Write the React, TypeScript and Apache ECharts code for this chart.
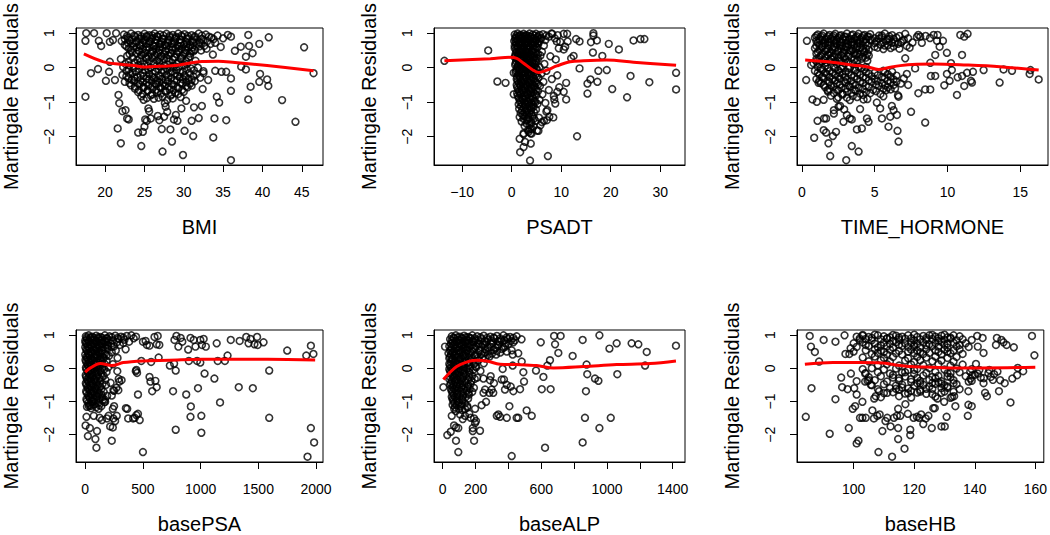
import React, { useEffect, useRef } from "react";
import * as echarts from "echarts";

// ---------- y (residual) axis ----------
const yMin = -2.82;
const yMax = 1.15;
const yTicks = [-2, -1, 0, 1];
const yTitle = "Martingale Residuals";

// ---------- BMI ----------
const bmiTitle = "BMI";
const bmiRange = [16.3, 47.7];
const bmiTicks = [20, 25, 30, 35, 40, 45];
const bmiPoints = [
  [17.5,0.78],[17.6,1.0],[17.5,-0.84],[18.6,1.0],[18.2,-0.16],[19.1,-0.04],[19.2,0.78],[19.5,0.63],[20.2,1.0],[20.1,-0.38],[20.5,-0.12],[20.6,0.17],[20.6,0.75],[21.0,0.8],[21.4,1.0],[21.25,-0.36],[21.7,-0.79],[21.6,-1.76],[21.8,-1.03],[22.0,-2.19],[22.2,-1.26],[22.6,-1.23],[22.8,-1.47],[23.0,-1.5],[24.2,-1.88],[24.6,-2.27],[24.8,-1.86],[25.0,-1.71],[25.1,-1.5],[25.3,-1.54],[25.5,-1.18],[25.6,-1.26],[25.8,-1.47],[26.7,-1.4],[26.9,-1.52],[27.3,-2.43],[27.2,-1.78],[27.5,-1.42],[27.6,-1.03],[27.7,-1.13],[27.9,-1.28],[28.3,-1.79],[28.5,-2.14],[28.75,-1.5],[29.0,-1.37],[29.2,-1.54],[29.7,-1.18],[29.9,-2.53],[30.1,-1.83],[30.3,-0.96],[31.0,-1.54],[31.2,-1.98],[31.3,-1.15],[31.9,-1.46],[32.3,-1.11],[32.4,-0.62],[32.5,-0.16],[33.1,-0.36],[33.75,-2.02],[33.9,-1.47],[34.2,-0.84],[34.5,-1.01],[34.8,-0.12],[35.4,-1.52],[35.4,-0.12],[36.0,-0.67],[36.0,-0.31],[36.0,-2.68],[36.5,0.49],[37.25,0.61],[37.3,0.03],[37.9,-0.05],[37.9,0.32],[38.2,0.95],[38.3,0.63],[38.2,-0.92],[38.5,-0.55],[38.75,0.42],[39.6,0.69],[39.7,-0.18],[39.6,-0.41],[40.6,-0.34],[40.75,-0.53],[40.8,0.88],[42.5,-0.94],[44.2,-1.57],[45.3,0.59],[46.5,-0.16],
  [22.4,0.96],[23.3,0.99],[24.2,0.95],[25.0,0.98],[25.6,0.94],[26.3,0.99],[27.0,0.96],[27.8,0.98],[28.6,0.95],[29.3,0.99],[30.1,0.97],[31.0,0.94],[31.9,0.99],[32.8,0.96],[34.3,0.93],[35.6,0.95],[36.0,0.9],
  [22.9,0.87],[23.8,0.9],[24.6,0.85],[25.3,0.89],[26.0,0.86],[26.7,0.9],[27.4,0.84],[28.2,0.88],[29.0,0.86],[29.8,0.9],[30.5,0.85],[31.4,0.88],[32.3,0.84],[33.5,0.87],[35.0,0.85],
  [22.1,0.77],[23.1,0.8],[24.0,0.75],[24.9,0.79],[25.7,0.76],[26.4,0.8],[27.2,0.74],[28.0,0.78],[28.8,0.76],[29.5,0.8],[30.3,0.75],[31.1,0.78],[32.0,0.73],[33.0,0.77],[34.0,0.72],
  [22.5,0.66],[23.5,0.7],[24.4,0.65],[25.2,0.69],[26.1,0.64],[26.9,0.68],[27.6,0.66],[28.5,0.7],[29.2,0.64],[30.0,0.67],[30.8,0.65],[31.6,0.69],[32.6,0.63],[34.7,0.6],
  [23.0,0.56],[24.0,0.59],[24.8,0.54],[25.6,0.58],[26.5,0.55],[27.3,0.59],[28.1,0.53],[29.0,0.57],[29.7,0.55],[30.6,0.58],[31.4,0.52],[32.9,0.55],
  [23.4,0.45],[24.3,0.48],[25.1,0.43],[26.0,0.47],[26.8,0.44],[27.7,0.48],[28.4,0.42],[29.3,0.46],[30.2,0.44],[31.2,0.47],
  [22.8,0.34],[24.6,0.37],[25.5,0.32],[26.3,0.36],[27.1,0.33],[28.0,0.37],[28.9,0.31],[29.8,0.35],[30.8,0.33],[33.7,0.38],
  [22.0,0.25],[24.1,0.22],[25.3,0.26],[26.6,0.21],[27.5,0.25],[28.6,0.23],[29.6,0.26],[31.5,0.2],
  [22.6,0.11],[23.7,0.14],[25.0,0.1],[26.2,0.13],[27.9,0.09],[29.1,0.12],[30.4,0.1],
  [22.3,0.02],[23.6,-0.01],[24.7,0.03],[25.8,0.0],[27.0,0.04],[28.3,0.01],[29.4,0.03],[30.9,-0.02],[31.8,0.0],
  [22.7,-0.09],[23.9,-0.12],[25.1,-0.08],[26.4,-0.11],[27.4,-0.07],[28.5,-0.1],[29.9,-0.12],[31.3,-0.08],[32.5,-0.1],[34.0,-0.09],
  [22.2,-0.21],[23.2,-0.18],[24.5,-0.22],[25.6,-0.19],[26.8,-0.23],[27.8,-0.2],[28.9,-0.17],[30.1,-0.22],[31.6,-0.19],
  [23.0,-0.31],[24.1,-0.28],[25.3,-0.32],[26.2,-0.29],[27.2,-0.33],[28.4,-0.3],[29.5,-0.27],[30.6,-0.32],[32.1,-0.29],
  [22.5,-0.41],[23.7,-0.38],[24.8,-0.42],[25.9,-0.39],[26.9,-0.43],[28.0,-0.4],[29.1,-0.37],[30.3,-0.42],[31.4,-0.39],
  [23.3,-0.51],[24.4,-0.48],[25.5,-0.52],[26.5,-0.49],[27.6,-0.53],[28.7,-0.5],[29.8,-0.47],[31.0,-0.52],
  [23.8,-0.61],[24.9,-0.58],[26.0,-0.62],[27.1,-0.59],[28.2,-0.63],[29.3,-0.6],[30.5,-0.57],
  [24.2,-0.71],[25.4,-0.68],[26.6,-0.72],[27.7,-0.69],[28.9,-0.73],[30.0,-0.7],
  [24.6,-0.83],[25.8,-0.8],[27.3,-0.84],[28.3,-0.81],[29.6,-0.85],
  [24.9,-0.93],[26.2,-0.9],[27.9,-0.94],
];
const bmiPointsMore = [
  [22.8,0.92],[23.7,0.93],[24.6,0.91],[25.3,0.92],[26.0,0.93],[26.6,0.91],[27.4,0.93],[28.2,0.92],[29.0,0.9],[29.7,0.93],[30.5,0.92],[31.4,0.91],[32.3,0.93],[33.2,0.9],
  [22.5,0.83],[23.4,0.82],[24.3,0.84],[25.1,0.82],[25.9,0.83],[26.5,0.81],[27.3,0.84],[28.1,0.82],[28.9,0.83],[29.6,0.81],[30.4,0.84],[31.3,0.82],[32.5,0.8],[33.8,0.83],
  [22.9,0.72],[23.9,0.71],[24.8,0.73],[25.6,0.71],[26.4,0.72],[27.1,0.7],[28.0,0.73],[28.8,0.71],[29.6,0.72],[30.4,0.7],[31.2,0.73],[32.2,0.71],[33.4,0.69],
  [22.7,0.62],[23.6,0.61],[24.5,0.63],[25.3,0.6],[26.2,0.62],[27.0,0.61],[27.8,0.63],[28.6,0.6],[29.4,0.62],[30.3,0.61],[31.1,0.59],[32.0,0.62],
  [23.3,0.51],[24.3,0.5],[25.2,0.52],[26.1,0.5],[26.9,0.51],[27.7,0.49],[28.5,0.52],[29.4,0.5],[30.2,0.51],[31.0,0.49],[32.2,0.5],
  [23.1,0.4],[24.0,0.41],[24.9,0.39],[25.8,0.41],[26.6,0.4],[27.5,0.38],[28.3,0.41],[29.1,0.4],[30.0,0.39],[30.8,0.41],
  [23.5,0.29],[24.4,0.28],[25.2,0.3],[26.0,0.28],[27.0,0.29],[27.9,0.27],[28.8,0.3],[29.7,0.28],[30.6,0.29],
  [23.0,0.18],[24.5,0.17],[25.6,0.19],[26.9,0.17],[28.1,0.18],[29.3,0.16],[30.3,0.19],
  [23.1,0.06],[24.2,0.07],[25.4,0.05],[26.6,0.07],[27.6,0.06],[28.8,0.05],[30.0,0.07],
  [23.0,-0.05],[24.3,-0.04],[25.5,-0.06],[26.8,-0.04],[27.9,-0.05],[29.1,-0.06],[30.4,-0.04],
  [23.5,-0.15],[24.8,-0.14],[26.0,-0.16],[27.2,-0.14],[28.3,-0.15],[29.5,-0.13],[30.7,-0.15],
  [22.7,-0.25],[23.7,-0.26],[24.9,-0.24],[26.0,-0.26],[27.0,-0.25],[28.0,-0.27],[29.2,-0.24],[30.2,-0.26],[31.2,-0.25],
  [23.4,-0.35],[24.5,-0.36],[25.6,-0.34],[26.6,-0.36],[27.7,-0.35],[28.8,-0.37],[29.9,-0.34],[31.0,-0.36],
  [23.1,-0.45],[24.2,-0.46],[25.3,-0.44],[26.4,-0.46],[27.4,-0.45],[28.5,-0.47],[29.6,-0.44],[30.8,-0.46],
  [23.8,-0.55],[24.9,-0.56],[26.0,-0.54],[27.0,-0.56],[28.1,-0.55],[29.2,-0.57],[30.3,-0.54],
  [24.3,-0.65],[25.4,-0.66],[26.5,-0.64],[27.6,-0.66],[28.7,-0.65],[29.8,-0.64],
  [24.8,-0.76],[26.0,-0.77],[27.1,-0.75],[28.5,-0.77],[29.3,-0.76],
  [25.3,-0.88],[26.8,-0.87],[28.6,-0.89],
];
const bmiSmooth = [[17.3,0.4],[19.8,0.17],[21.9,0.1],[24.0,0.05],[25.2,0.02],[26.9,0.04],[29.0,0.06],[30.6,0.13],[32.3,0.18],[34.4,0.19],[36.5,0.15],[40.6,0.06],[46.5,-0.09]];

// ---------- PSADT ----------
const psadtTitle = "PSADT";
const psadtRange = [-15.7, 35.0];
const psadtTicks = [-10, 0, 10, 20, 30];
const psadtPoints = [
  [-13.6,0.2],[-4.75,0.5],[-2.9,-0.4],[-1.25,-0.44],[0.4,-0.15],[0.4,-0.77],[8.2,0.98],[9.1,0.76],[10.5,0.98],[11.2,0.98],[10.5,0.53],[10.8,0.61],[11.3,0.76],[11.0,-0.44],[11.0,-0.92],[10.5,-0.7],[12.0,0.27],[12.5,0.34],[13.0,0.83],[13.7,0.76],[13.7,-0.02],[13.2,-1.99],[7.3,-2.56],[16.0,0.74],[16.4,0.44],[16.5,1.0],[16.5,0.93],[17.2,0.79],[15.9,-0.34],[15.3,-0.46],[15.3,-0.75],[17.3,-0.41],[17.5,-0.09],[18.3,0.34],[19.6,0.69],[19.2,-0.07],[20.3,-0.62],[21.65,0.53],[23.3,-0.86],[24.0,-0.24],[24.6,0.79],[26.0,0.83],[26.8,0.83],[27.8,-0.42],[33.2,-0.15],[33.2,-0.63],
  [1.6,-2.06],[1.7,-2.45],[2.4,-2.3],[2.7,-2.15],[3.7,-2.69],[3.85,-2.2],[4.0,-1.91],[3.7,-1.77],[3.4,-1.86],[2.4,-1.9],[6.5,-1.54],[7.1,-1.52],[7.2,-1.23],[5.4,-1.83],[8.4,-1.44],[8.8,-1.04],[8.6,-0.92],[9.2,-0.7],
  [0.6,0.96],[1.2,0.99],[1.8,0.95],[2.4,0.98],[3.0,0.94],[3.6,0.99],[4.2,0.96],[4.9,0.98],[5.6,0.95],[6.3,0.97],[7.0,0.93],[8.0,0.99],[9.3,0.94],
  [0.8,0.87],[1.4,0.9],[2.0,0.85],[2.6,0.89],[3.2,0.86],[3.8,0.9],[4.5,0.84],[5.2,0.88],[6.0,0.86],[7.5,0.9],[8.7,0.85],
  [0.5,0.77],[1.1,0.8],[1.7,0.75],[2.3,0.79],[2.9,0.76],[3.5,0.8],[4.1,0.74],[4.8,0.78],[5.5,0.76],[6.8,0.8],[9.8,0.75],
  [0.9,0.66],[1.5,0.7],[2.1,0.65],[2.7,0.69],[3.3,0.64],[4.0,0.68],[4.7,0.66],[5.4,0.7],[6.5,0.64],
  [0.6,0.56],[1.3,0.59],[1.9,0.54],[2.5,0.58],[3.1,0.55],[3.7,0.59],[4.4,0.53],[5.1,0.57],[9.5,0.56],
  [1.0,0.45],[1.6,0.48],[2.2,0.43],[2.8,0.47],[3.4,0.44],[4.1,0.48],[4.9,0.42],[6.1,0.46],
  [0.7,0.34],[1.4,0.37],[2.0,0.32],[2.6,0.36],[3.2,0.33],[3.9,0.37],[4.6,0.31],[5.8,0.35],[7.8,0.33],
  [1.1,0.25],[1.8,0.22],[2.4,0.26],[3.0,0.21],[3.7,0.25],[4.4,0.23],[5.3,0.26],[8.9,0.24],
  [0.8,0.13],[1.5,0.11],[2.1,0.15],[2.7,0.1],[3.4,0.14],[4.2,0.12],[5.0,0.15],[6.6,0.11],
  [1.2,0.02],[1.9,0.05],[2.5,0.01],[3.1,0.04],[3.8,0.0],[4.6,0.03],[5.6,0.02],
  [0.9,-0.09],[1.6,-0.06],[2.3,-0.1],[2.9,-0.07],[3.6,-0.11],[4.3,-0.08],[5.1,-0.05],[7.0,-0.09],
  [1.3,-0.21],[2.0,-0.18],[2.6,-0.22],[3.3,-0.19],[4.0,-0.23],[4.8,-0.2],[6.0,-0.17],[9.2,-0.22],
  [1.0,-0.33],[1.7,-0.3],[2.4,-0.34],[3.0,-0.31],[3.7,-0.35],[4.5,-0.32],[5.4,-0.29],[8.1,-0.33],
  [1.4,-0.45],[2.1,-0.42],[2.8,-0.46],[3.5,-0.43],[4.2,-0.47],[5.0,-0.44],[6.4,-0.41],
  [1.1,-0.57],[1.8,-0.54],[2.5,-0.58],[3.2,-0.55],[3.9,-0.59],[4.7,-0.56],[5.7,-0.53],[9.6,-0.57],
  [1.5,-0.69],[2.2,-0.66],[2.9,-0.7],[3.6,-0.67],[4.4,-0.71],[5.3,-0.68],[7.5,-0.65],
  [1.2,-0.81],[1.9,-0.78],[2.6,-0.82],[3.3,-0.79],[4.1,-0.83],[5.0,-0.8],[6.2,-0.77],[8.5,-0.82],
  [1.6,-0.94],[2.3,-0.91],[3.0,-0.95],[3.8,-0.92],[4.6,-0.96],[5.6,-0.93],
  [1.4,-1.06],[2.1,-1.03],[2.8,-1.07],[3.5,-1.04],[4.3,-1.08],[5.2,-1.05],[6.8,-1.02],
  [1.5,-1.19],[2.4,-1.16],[3.2,-1.2],[4.0,-1.17],[4.9,-1.21],
  [1.8,-1.31],[2.7,-1.28],[3.6,-1.32],[4.5,-1.29],[7.0,-1.27],
  [1.6,-1.43],[2.5,-1.4],[3.4,-1.44],[4.2,-1.41],[5.5,-1.45],[7.6,-1.42],
  [2.0,-1.56],[3.0,-1.53],[3.9,-1.57],[4.8,-1.54],[6.1,-1.58],
  [2.6,-1.69],[3.6,-1.66],[4.4,-1.7],[5.8,-1.67],
  [3.3,-1.81],[4.1,-1.78],[5.1,-1.82],
  [2.4,-1.93],[3.8,-1.9],
];
const psadtPointsMore = [
  [0.9,0.92],[1.5,0.93],[2.1,0.91],[2.7,0.93],[3.3,0.92],[3.9,0.9],[4.6,0.93],[5.3,0.91],
  [0.7,0.83],[1.3,0.82],[1.9,0.84],[2.5,0.82],[3.1,0.83],[3.7,0.81],[4.3,0.84],[5.0,0.82],[5.8,0.83],
  [0.8,0.73],[1.4,0.72],[2.0,0.74],[2.6,0.72],[3.2,0.73],[3.8,0.71],[4.5,0.74],[5.2,0.72],
  [0.6,0.63],[1.2,0.62],[1.8,0.64],[2.4,0.62],[3.0,0.63],[3.6,0.61],[4.3,0.64],[5.0,0.62],
  [0.9,0.52],[1.5,0.51],[2.1,0.53],[2.7,0.51],[3.3,0.52],[4.0,0.5],[4.7,0.53],
  [0.8,0.41],[1.3,0.4],[1.9,0.42],[2.5,0.4],[3.1,0.41],[3.7,0.39],[4.4,0.42],[5.3,0.4],
  [0.6,0.3],[1.2,0.29],[1.8,0.31],[2.4,0.29],[3.0,0.3],[3.6,0.28],[4.2,0.31],[5.0,0.29],
  [0.9,0.19],[1.5,0.18],[2.1,0.2],[2.8,0.18],[3.4,0.19],[4.1,0.17],[4.8,0.2],
  [0.7,0.08],[1.3,0.07],[2.0,0.09],[2.6,0.07],[3.2,0.08],[3.9,0.06],[4.7,0.09],
  [1.0,-0.03],[1.6,-0.04],[2.2,-0.02],[2.8,-0.04],[3.4,-0.03],[4.1,-0.05],[4.9,-0.02],
  [0.8,-0.14],[1.4,-0.15],[2.0,-0.13],[2.7,-0.15],[3.3,-0.14],[3.9,-0.16],[4.6,-0.13],
  [1.1,-0.26],[1.7,-0.27],[2.3,-0.25],[2.9,-0.27],[3.6,-0.26],[4.3,-0.28],[5.1,-0.25],
  [1.2,-0.38],[1.9,-0.39],[2.5,-0.37],[3.2,-0.39],[3.9,-0.38],[4.7,-0.4],
  [1.0,-0.5],[1.7,-0.51],[2.4,-0.49],[3.0,-0.51],[3.7,-0.5],[4.5,-0.52],[5.3,-0.49],
  [1.3,-0.62],[2.0,-0.63],[2.7,-0.61],[3.4,-0.63],[4.1,-0.62],[4.9,-0.64],
  [1.1,-0.74],[1.8,-0.75],[2.5,-0.73],[3.2,-0.75],[3.9,-0.74],[4.7,-0.76],
  [1.4,-0.87],[2.1,-0.88],[2.8,-0.86],[3.5,-0.88],[4.3,-0.87],
  [1.7,-1.0],[2.5,-1.01],[3.2,-0.99],[4.0,-1.01],[4.8,-1.0],
  [1.9,-1.12],[2.7,-1.13],[3.5,-1.11],[4.4,-1.13],
  [2.1,-1.24],[3.0,-1.25],[3.9,-1.23],
  [2.2,-1.36],[3.1,-1.37],[4.0,-1.35],
  [2.4,-1.48],[3.3,-1.49],[4.5,-1.47],
  [3.0,-1.62],[4.0,-1.61],
];
const psadtSmooth = [[-13.6,0.2],[-4.3,0.26],[-0.3,0.3],[1.0,0.27],[2.4,0.13],[4.1,-0.05],[5.4,-0.14],[7.1,-0.07],[9.1,0.05],[11.8,0.17],[14.5,0.2],[19.2,0.22],[24.6,0.16],[33.2,0.07]];

// ---------- TIME_HORMONE ----------
const thTitle = "TIME_HORMONE";
const thRange = [-0.33, 16.9];
const thTicks = [0, 5, 10, 15];
const thPoints = [
  [0.3,-0.36],[0.35,0.78],[0.64,0.08],[0.73,-0.92],[0.85,-2.03],[1.03,-0.99],[1.08,-1.54],[1.15,-0.44],[1.5,-1.81],[1.53,-1.47],[1.67,-1.47],[1.67,-1.88],[1.76,-0.65],[1.83,-2.19],[1.95,-2.56],[2.13,-1.98],[2.2,-1.33],[2.2,-1.23],[2.35,-1.86],[2.52,-1.13],[2.63,-1.11],[2.86,-1.57],[2.91,-1.21],[3.05,-2.68],[3.09,-1.37],[3.3,-1.47],[3.43,-2.27],[3.43,-1.5],[3.78,-1.79],[3.9,-2.43],[4.0,-1.2],[4.12,-1.76],[4.24,-0.92],[4.47,-1.47],[4.58,-1.57],[5.15,-1.01],[5.38,-1.18],[5.5,-1.47],[5.95,-1.71],[6.07,-1.42],[6.18,-1.11],[6.3,-1.23],[6.53,-1.37],[6.64,-2.14],[6.57,-1.83],[6.64,-0.84],[7.5,-1.28],[7.3,-0.5],[7.1,0.27],[7.21,-0.18],[7.78,-0.02],[8.0,-0.74],[8.24,0.72],[8.13,0.9],[8.47,-0.63],[8.47,-1.59],[8.82,-0.63],[8.86,-0.24],[8.82,0.14],[9.16,-0.24],[9.16,0.37],[9.05,0.95],[9.32,0.95],[9.28,0.78],[9.46,0.61],[9.69,0.78],[9.78,-0.51],[9.96,0.43],[9.96,-0.18],[10.15,-0.38],[10.24,0.13],[10.3,-0.07],[10.65,-0.79],[10.7,-0.28],[10.88,0.95],[11.0,0.37],[11.0,-0.24],[11.15,0.9],[11.38,0.98],[11.15,-0.53],[11.34,-0.15],[11.61,-0.38],[11.68,-0.43],[11.75,-0.12],[12.48,-0.07],[13.58,-0.43],[13.85,-0.05],[14.43,-0.09],[15.64,-0.18],[15.7,-0.07],[16.26,-0.34],
  [1.1,0.96],[1.5,0.99],[1.9,0.95],[2.3,0.98],[2.7,0.94],[3.1,0.99],[3.5,0.96],[3.9,0.98],[4.3,0.95],[4.7,0.97],[5.3,0.93],[5.7,0.99],[6.2,0.94],[7.1,0.98],[8.0,0.95],[8.5,0.92],
  [0.9,0.87],[1.3,0.9],[1.7,0.85],[2.1,0.89],[2.5,0.86],[2.9,0.9],[3.3,0.84],[3.7,0.88],[4.1,0.86],[4.5,0.9],[5.0,0.85],[5.5,0.88],[6.0,0.84],[6.5,0.87],[7.3,0.85],[7.9,0.89],[8.8,0.86],
  [1.0,0.77],[1.4,0.8],[1.8,0.75],[2.2,0.79],[2.6,0.76],[3.0,0.8],[3.4,0.74],[3.8,0.78],[4.2,0.76],[4.7,0.8],[5.1,0.75],[5.8,0.78],[6.4,0.74],[6.9,0.77],[7.6,0.73],
  [1.2,0.66],[1.6,0.7],[2.0,0.65],[2.4,0.69],[2.8,0.64],[3.2,0.68],[3.6,0.66],[4.0,0.7],[4.5,0.64],[5.4,0.67],[5.9,0.65],[6.6,0.69],[7.2,0.63],
  [0.9,0.56],[1.4,0.59],[1.8,0.54],[2.3,0.58],[2.7,0.55],[3.1,0.59],[3.5,0.53],[4.0,0.57],[4.4,0.55],[5.2,0.58],[5.6,0.54],[6.1,0.57],[6.7,0.55],[7.4,0.58],
  [1.1,0.45],[1.6,0.48],[2.0,0.43],[2.5,0.47],[2.9,0.44],[3.4,0.48],[3.8,0.42],[4.3,0.46],
  [1.3,0.34],[1.8,0.37],[2.2,0.32],[2.7,0.36],[3.2,0.33],[3.7,0.37],[4.2,0.31],[4.6,0.35],
  [1.0,0.25],[1.5,0.22],[2.0,0.26],[2.6,0.21],[3.0,0.25],[3.6,0.23],[4.1,0.26],[4.5,0.2],
  [0.8,0.13],[1.2,0.11],[1.7,0.15],[2.4,0.1],[2.9,0.14],[3.5,0.12],
  [1.1,0.02],[1.6,0.05],[2.2,0.01],[2.8,0.04],[3.3,0.0],[3.9,0.03],[4.4,0.02],
  [0.9,-0.09],[1.4,-0.06],[1.9,-0.1],[2.5,-0.07],[3.0,-0.11],[3.7,-0.08],[4.3,-0.05],[5.6,-0.09],[6.2,-0.12],
  [1.2,-0.21],[1.7,-0.18],[2.3,-0.22],[2.8,-0.19],[3.4,-0.23],[4.0,-0.2],[4.6,-0.17],[5.2,-0.22],[5.9,-0.19],[6.5,-0.23],
  [1.0,-0.33],[1.5,-0.3],[2.1,-0.34],[2.6,-0.31],[3.1,-0.35],[3.8,-0.32],[4.4,-0.29],[5.0,-0.33],[5.7,-0.3],[6.3,-0.34],[7.0,-0.31],
  [1.3,-0.45],[1.9,-0.42],[2.4,-0.46],[3.0,-0.43],[3.5,-0.47],[4.2,-0.44],[4.8,-0.41],[5.5,-0.45],[6.1,-0.42],[6.8,-0.46],
  [1.6,-0.57],[2.2,-0.54],[2.7,-0.58],[3.3,-0.55],[3.9,-0.59],[4.6,-0.56],[5.3,-0.53],[5.9,-0.57],[6.4,-0.6],
  [1.8,-0.69],[2.5,-0.66],[3.1,-0.7],[3.7,-0.67],[4.4,-0.71],[5.1,-0.68],[5.8,-0.65],
  [2.0,-0.81],[2.8,-0.78],[3.5,-0.82],[4.2,-0.79],[5.6,-0.83],[6.6,-0.8],
  [1.5,-0.93],[2.4,-0.9],[3.3,-0.94],[4.5,-0.91],
];
const thPointsMore = [
  [1.0,0.92],[1.4,0.93],[1.8,0.91],[2.2,0.93],[2.6,0.92],[3.0,0.9],[3.4,0.93],[3.8,0.91],[4.2,0.92],[4.6,0.9],[5.5,0.93],[6.0,0.91],[6.7,0.92],
  [1.2,0.83],[1.6,0.82],[2.0,0.84],[2.4,0.82],[2.8,0.83],[3.2,0.81],[3.6,0.84],[4.0,0.82],[4.4,0.83],[4.8,0.81],[5.3,0.84],[5.9,0.82],[6.3,0.83],[7.0,0.81],
  [1.1,0.73],[1.5,0.72],[1.9,0.74],[2.3,0.72],[2.7,0.73],[3.1,0.71],[3.5,0.74],[3.9,0.72],[4.4,0.73],[5.0,0.71],[5.6,0.74],[6.2,0.72],[6.8,0.73],
  [1.0,0.63],[1.4,0.62],[1.8,0.64],[2.2,0.62],[2.6,0.63],[3.0,0.61],[3.4,0.64],[3.8,0.62],[4.2,0.63],[5.0,0.61],[5.7,0.64],[6.3,0.62],
  [1.2,0.52],[1.7,0.51],[2.1,0.53],[2.5,0.51],[2.9,0.52],[3.3,0.5],[3.7,0.53],[4.2,0.51],[4.6,0.52],
  [1.0,0.41],[1.4,0.4],[1.9,0.42],[2.3,0.4],[2.8,0.41],[3.2,0.39],[3.6,0.42],[4.0,0.4],[4.5,0.41],
  [1.2,0.3],[1.6,0.29],[2.1,0.31],[2.5,0.29],[2.9,0.3],[3.4,0.28],[3.9,0.31],[4.4,0.29],
  [1.0,0.19],[1.4,0.18],[1.9,0.2],[2.3,0.18],[2.7,0.19],[3.2,0.17],[3.8,0.2],
  [1.3,-0.02],[1.8,-0.03],[2.3,-0.01],[2.7,-0.03],[3.2,-0.02],[3.6,-0.04],[4.1,-0.01],
  [1.1,-0.14],[1.6,-0.15],[2.1,-0.13],[2.6,-0.15],[3.2,-0.14],[3.8,-0.16],[4.4,-0.13],[5.0,-0.15],[5.7,-0.14],
  [1.4,-0.26],[1.9,-0.27],[2.5,-0.25],[3.0,-0.27],[3.6,-0.26],[4.2,-0.28],[4.8,-0.25],[5.5,-0.27],[6.1,-0.26],
  [1.2,-0.38],[1.8,-0.39],[2.3,-0.37],[2.9,-0.39],[3.4,-0.38],[4.0,-0.4],[4.6,-0.37],[5.2,-0.39],[5.9,-0.38],[6.5,-0.4],
  [1.5,-0.5],[2.0,-0.51],[2.6,-0.49],[3.2,-0.51],[3.7,-0.5],[4.4,-0.52],[5.1,-0.49],[5.7,-0.51],[6.3,-0.5],
  [1.9,-0.62],[2.4,-0.63],[3.0,-0.61],[3.6,-0.63],[4.2,-0.62],[4.9,-0.64],[5.6,-0.61],[6.1,-0.63],
  [2.2,-0.74],[2.8,-0.75],[3.4,-0.73],[4.0,-0.75],[4.7,-0.74],[5.4,-0.76],
  [2.5,-0.86],[3.1,-0.87],[3.8,-0.85],
];
const thSmooth = [[0.23,0.22],[2.2,0.15],[3.55,0.07],[4.47,0.03],[5.27,-0.05],[5.84,-0.01],[6.76,0.06],[7.9,0.1],[9.05,0.11],[11.3,0.08],[13.6,0.03],[16.26,-0.07]];

// ---------- basePSA ----------
const psaTitle = "basePSA";
const psaRange = [-80, 2060];
const psaTicks = [0, 500, 1000, 1500, 2000];
const psaPoints = [
  [11,-1.46],[3,-1.72],[23,-2.04],[40,-1.8],[31,-1.14],[51,-1.2],[74,-1.43],[88,-2.13],[97,-2.39],[102,-1.89],[116,-1.22],[125,-1.49],[145,-1.56],[153,-0.95],[173,-1.01],[188,-1.51],[202,-1.43],[216,-1.75],[230,-2.18],[239,-1.78],[244,-1.51],[259,-1.59],[273,-1.43],[250,-1.14],[239,-1.22],[230,-0.82],[244,-0.66],[287,-0.66],[295,-0.4],[315,-0.36],[278,-0.09],[352,-1.2],[364,-1.22],[372,-1.51],[415,-1.51],[429,-1.49],[443,-1.41],[457,-1.37],[472,-1.56],[457,-0.79],[500,-2.52],[438,-0.09],[443,-0.05],[449,-0.14],[486,0.22],[557,-0.26],[565,-0.4],[580,-0.69],[608,-0.38],[619,-0.57],[636,0.32],[571,0.19],[557,0.68],[534,0.7],[523,0.82],[500,0.8],[600,0.94],[619,0.72],[642,0.7],[628,0.97],[733,0.08],[761,-0.69],[770,0.14],[784,-1.85],[784,-0.07],[773,0.85],[790,0.97],[807,0.65],[827,0.91],[841,0.8],[875,-0.79],[892,0.56],[898,0.22],[912,-1.46],[915,-1.15],[912,0.91],[940,0.85],[955,0.65],[977,-0.6],[969,0.22],[997,0.17],[1006,-1.43],[1006,-1.94],[997,0.85],[1011,0.7],[1026,0.88],[1045,0.65],[1034,-0.16],[1119,-0.31],[1139,0.75],[1148,0.22],[1168,-1.03],[1210,0.22],[1233,0.38],[1261,0.85],[1330,-0.57],[1338,0.82],[1395,0.94],[1415,0.75],[1432,0.88],[1452,-0.6],[1466,0.72],[1489,0.94],[1494,0.7],[1545,0.78],[1594,-0.07],[1594,-1.49],[1750,0.53],[1915,0.38],[1926,-2.66],[1955,-1.8],[1955,0.68],[1977,0.43],[1983,-2.23],
  [5,0.96],[30,0.99],[60,0.95],[95,0.98],[130,0.94],[170,0.99],[210,0.96],[260,0.98],[310,0.95],[360,0.97],[400,0.99],[440,0.95],
  [15,0.87],[45,0.9],[80,0.85],[115,0.89],[150,0.86],[190,0.9],[240,0.84],[290,0.88],[340,0.86],[420,0.9],
  [3,0.77],[35,0.8],[65,0.75],[100,0.79],[140,0.76],[180,0.8],[225,0.74],[275,0.78],[330,0.76],[380,0.8],
  [20,0.66],[50,0.7],[85,0.65],[120,0.69],[160,0.64],[200,0.68],[250,0.66],[300,0.7],
  [8,0.56],[40,0.59],[70,0.54],[105,0.58],[145,0.55],[195,0.59],[265,0.53],[350,0.57],
  [25,0.45],[55,0.48],[90,0.43],[125,0.47],[170,0.44],[230,0.48],
  [10,0.34],[40,0.37],[75,0.32],[110,0.36],[155,0.33],[205,0.37],[280,0.31],
  [2,0.25],[30,0.22],[60,0.26],[95,0.21],[135,0.25],[185,0.23],
  [18,0.13],[48,0.11],[80,0.15],[120,0.1],[165,0.14],[240,0.12],
  [6,0.02],[35,0.05],[65,0.01],[100,0.04],[150,0.0],[200,0.03],
  [22,-0.09],[52,-0.06],[85,-0.1],[130,-0.07],[185,-0.11],
  [4,-0.21],[38,-0.18],[70,-0.22],[110,-0.19],[160,-0.23],
  [15,-0.33],[45,-0.3],[80,-0.34],[125,-0.31],[175,-0.35],[290,-0.32],
  [5,-0.45],[32,-0.42],[62,-0.46],[100,-0.43],[150,-0.47],[220,-0.44],
  [20,-0.57],[50,-0.54],[85,-0.58],[130,-0.55],[270,-0.59],
  [8,-0.69],[40,-0.66],[72,-0.7],[110,-0.67],[160,-0.71],[250,-0.68],
  [25,-0.81],[55,-0.78],[95,-0.82],[140,-0.79],[190,-0.83],
  [10,-0.93],[40,-0.9],[80,-0.94],[125,-0.91],[170,-0.95],
  [28,-1.04],[65,-1.01],[110,-1.05],[165,-1.02],
  [15,-1.16],[50,-1.13],[95,-1.17],[140,-1.14],
];
const psaPointsMore = [
  [12,0.92],[45,0.93],[75,0.91],[110,0.93],[145,0.92],[185,0.9],[230,0.93],[280,0.91],[330,0.92],
  [0,0.83],[28,0.82],[58,0.84],[92,0.82],[128,0.83],[165,0.81],[205,0.84],
  [12,0.73],[42,0.72],[75,0.74],[110,0.72],[150,0.73],[190,0.71],
  [0,0.63],[30,0.62],[60,0.64],[92,0.62],[130,0.63],[175,0.61],[230,0.64],
  [15,0.52],[45,0.51],[78,0.53],[112,0.51],[150,0.52],
  [0,0.41],[28,0.4],[58,0.42],[92,0.4],[135,0.41],[185,0.39],
  [18,0.3],[48,0.29],[82,0.31],[120,0.29],[160,0.3],
  [8,0.19],[38,0.18],[68,0.2],[105,0.18],[145,0.19],
  [22,0.08],[52,0.07],[85,0.09],[130,0.07],
  [10,-0.03],[42,-0.04],[75,-0.02],[115,-0.04],[165,-0.03],
  [25,-0.14],[58,-0.15],[95,-0.13],[140,-0.15],
  [8,-0.26],[32,-0.27],[62,-0.25],[100,-0.27],[145,-0.26],
  [20,-0.38],[52,-0.39],[88,-0.37],[130,-0.39],
  [10,-0.5],[38,-0.51],[70,-0.49],[110,-0.51],[180,-0.5],
  [25,-0.62],[58,-0.63],[95,-0.61],[140,-0.63],
  [12,-0.74],[45,-0.75],[80,-0.73],[120,-0.75],
  [30,-0.86],[65,-0.87],[105,-0.85],[150,-0.87],
  [15,-0.98],[55,-0.99],[95,-0.97],
  [35,-1.1],[75,-1.09],[120,-1.11],
];
const psaSmooth = [[0,-0.12],[45,0.01],[130,0.14],[230,0.08],[330,0.17],[500,0.22],[727,0.24],[1011,0.27],[1580,0.27],[1992,0.25]];

// ---------- baseALP ----------
const alpTitle = "baseALP";
const alpRange = [-53, 1475];
const alpTicks = [0, 200, 400, 600, 800, 1000, 1200, 1400];
const alpLabels = [0, 200, 600, 1000, 1400];
const alpPoints = [
  [4,-0.57],[14,0.65],[28,-2.01],[49,-1.91],[69,-1.72],[81,-2.18],[95,-2.52],[81,-1.78],[95,-1.8],[55,-1.43],[106,-1.39],[122,-1.53],[136,-1.43],[136,-1.22],[150,-1.14],[162,-1.37],[170,-1.49],[183,-1.8],[191,-2.18],[183,-1.89],[197,-1.65],[203,-1.59],[191,-1.51],[197,-1.22],[227,-1.88],[237,-1.11],[248,-0.74],[258,-0.64],[248,-0.31],[264,-1.01],[284,-0.74],[298,-0.64],[308,-0.74],[312,-0.45],[288,-0.36],[292,-0.24],[329,-1.43],[339,-1.39],[349,-1.46],[359,-0.34],[365,-0.02],[373,-0.34],[379,-0.64],[390,-0.5],[390,-1.49],[406,-1.14],[420,-2.64],[414,-0.55],[426,0.08],[426,0.41],[430,-0.69],[450,-1.49],[460,-1.49],[471,-0.63],[481,0.2],[491,-0.12],[495,-0.4],[511,-1.27],[542,-1.43],[568,-0.07],[597,0.78],[603,-0.63],[613,-0.26],[623,-2.39],[637,0.08],[653,0.24],[657,-0.63],[678,0.97],[684,0.72],[718,0.97],[704,0.46],[791,0.37],[852,0.85],[852,-2.23],[866,-1.49],[872,-0.69],[876,0.11],[880,-0.18],[927,-0.31],[948,-0.38],[954,0.99],[954,-1.8],[1015,0.59],[1023,-1.49],[1059,0.75],[1063,-0.18],[1150,0.75],[1191,0.72],[1232,0.08],[1242,0.49],[1420,0.68],
  [55,0.96],[80,0.99],[105,0.95],[130,0.98],[155,0.94],[180,0.99],[210,0.96],[250,0.98],[290,0.95],[330,0.97],[370,0.99],[410,0.94],[450,0.96],
  [45,0.87],[70,0.9],[95,0.85],[120,0.89],[145,0.86],[170,0.9],[200,0.84],[235,0.88],[275,0.86],[315,0.9],[355,0.85],[395,0.88],[440,0.84],[480,0.87],
  [60,0.77],[85,0.8],[110,0.75],[135,0.79],[160,0.76],[190,0.8],[225,0.74],[265,0.78],[305,0.76],[345,0.8],[385,0.75],[430,0.78],
  [40,0.66],[65,0.7],[90,0.65],[115,0.69],[140,0.64],[170,0.68],[205,0.66],[245,0.7],[290,0.64],[335,0.67],[380,0.65],
  [50,0.56],[75,0.59],[100,0.54],[125,0.58],[150,0.55],[185,0.59],[220,0.53],[260,0.57],[310,0.55],[360,0.58],[420,0.54],
  [35,0.45],[60,0.48],[85,0.43],[110,0.47],[140,0.44],[170,0.48],[210,0.42],[255,0.46],[300,0.44],[350,0.47],[460,0.45],
  [45,0.34],[70,0.37],[95,0.32],[125,0.36],[155,0.33],[195,0.37],[240,0.31],[285,0.35],
  [55,0.25],[80,0.22],[105,0.26],[135,0.21],[170,0.25],[215,0.23],
  [40,0.13],[65,0.11],[90,0.15],[120,0.1],[150,0.14],[190,0.12],[250,0.15],
  [50,0.02],[75,0.05],[100,0.01],[130,0.04],[165,0.0],[205,0.03],
  [45,-0.09],[70,-0.06],[95,-0.1],[125,-0.07],[160,-0.11],[230,-0.08],
  [55,-0.21],[80,-0.18],[110,-0.22],[140,-0.19],[180,-0.23],
  [40,-0.33],[65,-0.3],[90,-0.34],[120,-0.31],[155,-0.35],[195,-0.32],
  [50,-0.45],[75,-0.42],[105,-0.46],[135,-0.43],[170,-0.47],
  [60,-0.57],[85,-0.54],[115,-0.58],[150,-0.55],[190,-0.59],
  [55,-0.69],[80,-0.66],[110,-0.7],[145,-0.67],[180,-0.71],
  [65,-0.81],[90,-0.78],[125,-0.82],[160,-0.79],
  [60,-0.93],[85,-0.9],[120,-0.94],[155,-0.91],
  [70,-1.05],[100,-1.02],[135,-1.06],
  [75,-1.17],[110,-1.14],[150,-1.18],
  [80,-1.29],[120,-1.26],
];
const alpPointsMore = [
  [65,0.92],[90,0.93],[115,0.91],[140,0.93],[165,0.92],[195,0.9],[230,0.93],[270,0.91],[310,0.92],[350,0.9],[390,0.93],[430,0.91],
  [55,0.83],[80,0.82],[105,0.84],[130,0.82],[155,0.83],[180,0.81],[215,0.84],[255,0.82],[295,0.83],[335,0.81],[375,0.84],[415,0.82],
  [50,0.73],[75,0.72],[100,0.74],[125,0.72],[150,0.73],[180,0.71],[215,0.74],[255,0.72],[295,0.73],[340,0.71],[400,0.73],
  [55,0.63],[80,0.62],[105,0.64],[130,0.62],[160,0.63],[195,0.61],[235,0.64],[275,0.62],[320,0.63],[370,0.61],
  [45,0.52],[70,0.51],[95,0.53],[120,0.51],[150,0.52],[180,0.5],[230,0.53],[280,0.51],[330,0.52],[390,0.5],
  [50,0.41],[75,0.4],[100,0.42],[130,0.4],[160,0.41],[195,0.39],[235,0.42],[275,0.4],[325,0.41],
  [40,0.3],[60,0.29],[85,0.31],[110,0.29],[140,0.3],[175,0.28],[215,0.31],[260,0.29],
  [50,0.19],[75,0.18],[100,0.2],[130,0.18],[160,0.19],[200,0.17],
  [45,0.08],[70,0.07],[95,0.09],[125,0.07],[160,0.08],[200,0.06],
  [40,-0.03],[60,-0.04],[85,-0.02],[115,-0.04],[145,-0.03],[185,-0.05],
  [50,-0.14],[75,-0.15],[100,-0.13],[130,-0.15],[165,-0.14],
  [45,-0.26],[70,-0.27],[95,-0.25],[125,-0.27],[160,-0.26],[210,-0.28],
  [55,-0.38],[80,-0.39],[110,-0.37],[140,-0.39],[175,-0.38],
  [45,-0.5],[65,-0.51],[90,-0.49],[120,-0.51],[155,-0.5],
  [50,-0.62],[70,-0.63],[100,-0.61],[130,-0.63],[165,-0.62],
  [60,-0.74],[90,-0.75],[120,-0.73],[155,-0.75],
  [55,-0.86],[75,-0.87],[105,-0.85],[140,-0.87],
  [65,-0.98],[90,-0.99],[120,-0.97],
  [60,-1.1],[85,-1.11],[115,-1.09],
  [70,-1.22],[100,-1.23],
];
const alpSmooth = [[4,-0.34],[45,-0.12],[85,0.05],[136,0.17],[203,0.24],[268,0.22],[349,0.12],[450,0.11],[572,0.08],[674,0.01],[856,0.05],[1059,0.11],[1262,0.14],[1420,0.22]];

// ---------- baseHB ----------
const hbTitle = "baseHB";
const hbRange = [81.3, 162.8];
const hbTicks = [100, 120, 140, 160];
const hbPoints = [
  [84.2,-1.46],[85.5,0.97],[85.9,0.65],[86.1,-0.6],[87.2,0.49],[88.6,0.2],[90.1,0.85],[92.1,-1.97],[94.0,-0.93],[94.0,0.8],[95.9,-0.28],[96.2,-0.57],[97.0,0.99],[97.3,0.43],[98.0,-0.63],[98.4,-1.8],[98.6,0.43],[99.1,-0.16],[99.7,-1.22],[100.2,-0.6],[100.5,-1.14],[101.0,-0.79],[101.0,-2.26],[101.6,-2.18],[102.1,-1.49],[102.9,-1.01],[102.9,-1.49],[104.0,-1.49],[103.8,-0.16],[103.8,-0.4],[104.6,-0.38],[105.1,-0.36],[105.7,-0.5],[106.7,-1.51],[106.2,-1.27],[106.8,-0.91],[107.3,-0.84],[107.8,-1.43],[108.4,-0.69],[108.6,-1.39],[109.5,-1.89],[108.2,-2.52],[110.5,-1.59],[111.1,-1.49],[111.1,-0.74],[112.7,-2.66],[112.2,-1.75],[113.3,-1.49],[114.3,-1.43],[114.7,-1.22],[114.7,-1.8],[114.7,-2.13],[115.4,-1.43],[116.8,-2.42],[117.1,-1.08],[117.9,-1.37],[118.7,-1.85],[118.7,-2.01],[119.8,-1.49],[120.9,-1.46],[121.6,-1.49],[122.3,-1.39],[123.0,-1.68],[123.8,-1.51],[124.7,-1.43],[125.8,-1.8],[126.3,-1.2],[126.8,-1.2],[127.7,-0.91],[129.0,-1.75],[130.1,-1.75],[129.9,-1.01],[130.7,-1.46],[132.5,-0.86],[133.2,-0.84],[133.6,-1.14],[137.7,-1.43],[137.9,-1.1],[139.0,-1.14],[137.9,-0.69],[138.6,-0.31],[139.3,-0.21],[140.4,0.13],[141.0,0.65],[140.8,0.97],[142.6,0.91],[142.9,0.46],[142.9,-0.45],[143.4,-0.74],[144.0,-0.84],[144.8,-0.05],[145.3,-0.26],[146.4,-0.18],[147.0,0.7],[147.3,0.91],[148.0,-0.69],[148.4,-0.36],[148.8,0.85],[149.5,0.78],[149.9,-0.45],[150.5,0.7],[151.8,-1.03],[152.4,-0.31],[152.9,0.63],[154.0,-0.21],[154.2,0.01],[156.0,-0.09],[158.9,0.97],[159.7,0.39],
  [101,0.95],[103,0.98],[105,0.94],[108,0.99],[110,0.96],[112,0.93],[114,0.98],[116,0.95],[118,0.99],[121,0.94],[123,0.97],[125,0.99],[127,0.95],[129,0.98],[131,0.93],[133,0.99],[135,0.96],
  [102,0.85],[104,0.88],[106,0.84],[109,0.87],[111,0.89],[113,0.83],[115,0.86],[117,0.89],[120,0.84],[122,0.87],[124,0.85],[126,0.88],[128,0.83],[130,0.86],[132,0.89],[134,0.84],[136,0.87],[139,0.85],
  [100,0.75],[103,0.78],[107,0.74],[110,0.77],[112,0.73],[114,0.78],[117,0.75],[119,0.77],[121,0.74],[123,0.78],[125,0.72],[127,0.76],[129,0.79],[131,0.74],[133,0.77],[137,0.75],
  [101,0.64],[105,0.67],[108,0.63],[111,0.66],[113,0.62],[116,0.67],[118,0.64],[120,0.66],[122,0.63],[126,0.67],[128,0.65],[131,0.62],[134,0.66],[138,0.64],
  [104,0.54],[107,0.57],[109,0.53],[112,0.56],[115,0.52],[119,0.56],[121,0.53],[124,0.57],[127,0.54],[130,0.56],[133,0.53],[135,0.57],
  [106,0.43],[108,0.46],[111,0.42],[114,0.45],[116,0.41],[120,0.45],[123,0.43],[125,0.46],[129,0.42],[132,0.45],[136,0.43],
  [103,0.32],[107,0.35],[110,0.31],[113,0.34],[118,0.3],[121,0.34],[124,0.32],[127,0.35],[131,0.31],[134,0.34],
  [105,0.21],[109,0.24],[112,0.2],[117,0.23],[120,0.19],[122,0.24],[126,0.21],[129,0.23],[133,0.2],
  [108,0.09],[111,0.12],[115,0.08],[119,0.11],[123,0.09],[128,0.12],[132,0.08],[136,0.11],
  [103,-0.03],[106,0.0],[110,-0.04],[114,-0.01],[118,-0.05],[121,-0.02],[125,0.0],[130,-0.04],[134,-0.01],[139,-0.03],
  [104,-0.15],[108,-0.12],[112,-0.16],[116,-0.13],[120,-0.17],[124,-0.14],[127,-0.11],[131,-0.15],[135,-0.12],[141,-0.16],
  [105,-0.27],[109,-0.24],[113,-0.28],[117,-0.25],[121,-0.29],[126,-0.26],[128,-0.23],[132,-0.27],[137,-0.24],[142,-0.28],
  [101,-0.39],[107,-0.36],[111,-0.4],[115,-0.37],[119,-0.41],[122,-0.38],[125,-0.35],[129,-0.39],[133,-0.36],[138,-0.4],
  [106,-0.51],[110,-0.48],[114,-0.52],[116,-0.49],[120,-0.53],[123,-0.5],[127,-0.47],[130,-0.51],[134,-0.48],
  [108,-0.63],[112,-0.6],[115,-0.64],[118,-0.61],[122,-0.65],[126,-0.62],[131,-0.59],[135,-0.63],
  [110,-0.75],[113,-0.72],[117,-0.76],[121,-0.73],[124,-0.77],[129,-0.74],[133,-0.71],
  [109,-0.87],[115,-0.84],[119,-0.88],[127,-0.85],[132,-0.89],
];
const hbPointsMore = [
  [102,0.9],[106,0.91],[111,0.9],[115,0.92],[119,0.9],[124,0.91],[128,0.9],[132,0.92],
  [104,0.7],[109,0.69],[115,0.71],[120,0.7],[124,0.69],[130,0.71],[135,0.7],
  [110,0.49],[118,0.5],[122,0.48],[128,0.49],[131,0.5],
  [122,-0.45],[126,-0.44],[129,-0.46],[131,-0.55],[116,-0.58],[119,-0.68],
  [113,-0.2],[115,-0.3],[117,-0.12],[119,-0.33],[121,-0.45],[123,-0.22],[125,-0.55],[127,-0.3],[129,-0.6],[131,-0.25],[133,-0.45],[114,-0.62],[118,-0.75],[122,-0.7],[126,-0.78],[130,-0.7],[132,-0.15],[120,-0.05],[128,-0.42],[124,-0.62],
  [138.5,-0.1],[140,-0.2],[141.5,-0.05],[143,-0.3],[144.5,-0.15],[146,-0.35],[147.5,-0.1],[139,-0.38],
  [103,1.0],[107,1.01],[113,1.0],[120,1.01],[126,1.0],[130,1.01],[99,0.6],[100,0.5],
];
const hbSmooth = [[83.9,0.12],[93.2,0.17],[101.8,0.17],[109.5,0.16],[113.8,0.1],[119.2,0.05],[125.8,0.03],[132.3,0.01],[142.1,0.01],[160,0.03]];

// ---------- layout (pixels) ----------
const colLefts = [72, 434, 797];
const rowTops = [28, 330];
const boxW = 251;
const boxH = 137;

const FONT = "'Liberation Sans', Arial, Helvetica, sans-serif";
const minus = (v: number) => String(v).replace("-", "\u2212");

const panels = [
  { title: bmiTitle, range: bmiRange, ticks: bmiTicks, labels: bmiTicks, pts: bmiPoints.concat(bmiPointsMore), smooth: bmiSmooth },
  { title: psadtTitle, range: psadtRange, ticks: psadtTicks, labels: psadtTicks, pts: psadtPoints.concat(psadtPointsMore), smooth: psadtSmooth },
  { title: thTitle, range: thRange, ticks: thTicks, labels: thTicks, pts: thPoints.concat(thPointsMore), smooth: thSmooth },
  { title: psaTitle, range: psaRange, ticks: psaTicks, labels: psaTicks, pts: psaPoints.concat(psaPointsMore), smooth: psaSmooth },
  { title: alpTitle, range: alpRange, ticks: alpTicks, labels: alpLabels, pts: alpPoints.concat(alpPointsMore), smooth: alpSmooth },
  { title: hbTitle, range: hbRange, ticks: hbTicks, labels: hbTicks, pts: hbPoints.concat(hbPointsMore), smooth: hbSmooth },
];

export default function App() {
  const ref = useRef<HTMLDivElement>(null);
  useEffect(() => {
    if (!ref.current) return;
    const chart = echarts.init(ref.current, undefined, { renderer: "svg" });
    const grid: any[] = [];
    const xAxis: any[] = [];
    const yAxis: any[] = [];
    const series: any[] = [];
    panels.forEach((p, i) => {
      const r = Math.floor(i / 3);
      const c = i % 3;
      grid.push({
        left: colLefts[c], top: rowTops[r], width: boxW, height: boxH,
        show: true, borderColor: "#000", borderWidth: 1, backgroundColor: "transparent",
      });
      xAxis.push({
        type: "value", gridIndex: i, min: p.range[0], max: p.range[1],
        splitLine: { show: false },
        axisLine: { show: true, onZero: false, lineStyle: { color: "#000", width: 1 } },
        axisTick: { show: true, inside: false, length: 7, customValues: p.ticks, lineStyle: { color: "#000" } },
        axisLabel: { customValues: p.labels, color: "#000", fontSize: 14, fontFamily: FONT, margin: 20, formatter: minus },
        name: p.title, nameLocation: "middle", nameGap: 52,
        nameTextStyle: { fontSize: 20, color: "#000", fontFamily: FONT },
      });
      yAxis.push({
        type: "value", gridIndex: i, min: yMin, max: yMax,
        splitLine: { show: false },
        axisLine: { show: true, onZero: false, lineStyle: { color: "#000", width: 1 } },
        axisTick: { show: true, inside: false, length: 7, customValues: yTicks, lineStyle: { color: "#000" } },
        axisLabel: { customValues: yTicks, color: "#000", fontSize: 14, fontFamily: FONT, margin: 20, rotate: 90, formatter: minus },
        name: yTitle, nameLocation: "middle", nameGap: 55,
        nameTextStyle: { fontSize: 20, color: "#000", fontFamily: FONT },
      });
      series.push({
        type: "scatter", xAxisIndex: i, yAxisIndex: i, data: p.pts,
        symbol: "circle", symbolSize: 6.8,
        itemStyle: { color: "rgba(0,0,0,0)", borderColor: "#000", borderWidth: 1.6 },
        silent: true, z: 2,
      });
      series.push({
        type: "line", xAxisIndex: i, yAxisIndex: i, data: p.smooth,
        showSymbol: false, symbol: "none", smooth: 0.35,
        lineStyle: { color: "#ff0000", width: 3 }, silent: true, z: 3,
      });
    });
    chart.setOption({ animation: false, grid, xAxis, yAxis, series });
    return () => chart.dispose();
  }, []);
  return <div ref={ref} style={{ position: "fixed", left: 0, top: 0, width: 1050, height: 535, background: "#fff" }} />;
}
